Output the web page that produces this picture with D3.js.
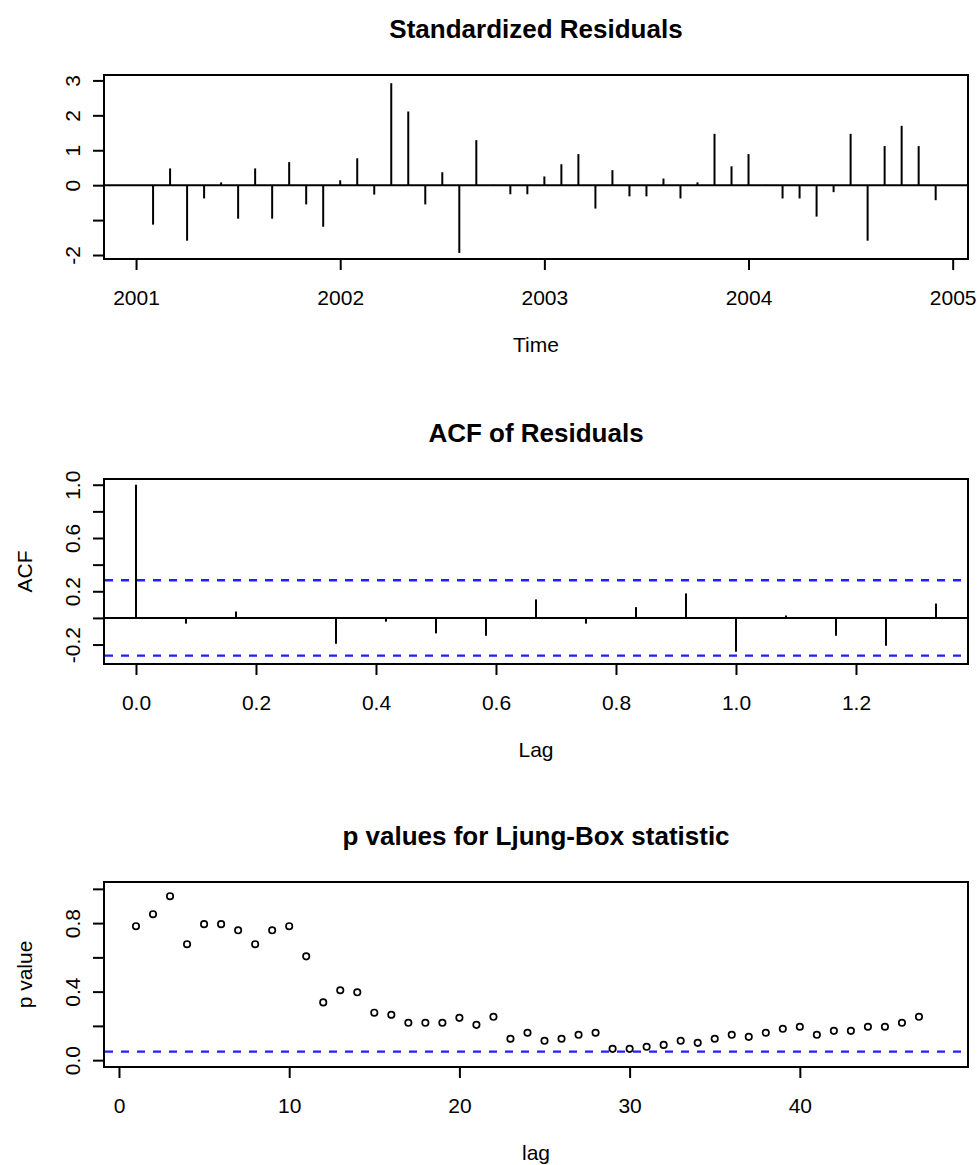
<!DOCTYPE html>
<html>
<head>
<meta charset="utf-8">
<script src="https://cdn.jsdelivr.net/npm/d3@7"></script>
<style>
  body { margin: 0; background: #fff; }
  text { font-family: "Liberation Sans", Arial, sans-serif; fill: #000; }
  .title { font-size: 26px; font-weight: bold; }
  .tick text, .lab { font-size: 21px; }
  .tick line { stroke: #000; stroke-width: 2; }
  .frame { fill: none; stroke: #000; stroke-width: 2; }
  .spike { stroke: #000; stroke-width: 2; }
  .zero { stroke: #000; stroke-width: 2; }
  .bound { stroke: #1f1fff; stroke-width: 2.4; stroke-dasharray: 8,8; }
  .dot { fill: none; stroke: #000; stroke-width: 1.7; }
</style>
</head>
<body>
<script>
// monthly series start
var startYear = 2001,
    freq = 12;

// standardized residuals, Jan 2001 .. Dec 2004
var residuals = [
   0.00, -1.13,  0.48, -1.59, -0.38,  0.08, -0.96,  0.48, -0.96,  0.66, -0.55, -1.19,
   0.14,  0.77, -0.27,  2.92,  2.11, -0.55,  0.37, -1.94,  1.29,  0.01, -0.26, -0.26,
   0.25,  0.60,  0.89, -0.67,  0.43, -0.32, -0.32,  0.19, -0.38,  0.08,  1.47,  0.54,
   0.89,  0.01, -0.38, -0.38, -0.90, -0.20,  1.47, -1.59,  1.12,  1.70,  1.12, -0.43
];
var resXTicks = [2001, 2002, 2003, 2004, 2005];
var resYTicks = [-2, -1, 0, 1, 2, 3];
var resYLabels = ["-2", "", "0", "1", "2", "3"];

// acf of residuals, lags 0..16 months
var acfValues = [1.0, -0.043, 0.048, 0.004, -0.194, -0.028, -0.116, -0.134, 0.139,
                 -0.043, 0.081, 0.184, -0.254, 0.018, -0.134, -0.209, 0.108];
var acfBound = 0.283;
var acfXTicks = [0, 0.2, 0.4, 0.6, 0.8, 1.0, 1.2];
var acfXLabels = ["0.0", "0.2", "0.4", "0.6", "0.8", "1.0", "1.2"];
var acfYTicks = [-0.2, 0, 0.2, 0.4, 0.6, 0.8, 1.0];
var acfYLabels = ["-0.2", "", "0.2", "", "0.6", "", "1.0"];

// ljung-box p values, lags 1..47
var pValues = [
  0.782, 0.852, 0.957, 0.677, 0.794, 0.794, 0.758, 0.677, 0.758, 0.782,
  0.606, 0.337, 0.408, 0.396, 0.277, 0.265, 0.218, 0.218, 0.218, 0.247,
  0.206, 0.253, 0.125, 0.160, 0.113, 0.125, 0.148, 0.160, 0.066, 0.066,
  0.078, 0.089, 0.113, 0.101, 0.125, 0.148, 0.136, 0.160, 0.183, 0.195,
  0.148, 0.171, 0.171, 0.195, 0.195, 0.218, 0.253
];
var pBound = 0.05;
var pXTicks = [0, 10, 20, 30, 40];
var pYTicks = [0, 0.2, 0.4, 0.6, 0.8, 1.0];
var pYLabels = ["0.0", "", "0.4", "", "0.8", ""];

// plot region shared by the three panels
var left = 104, right = 968;

var svg = d3.select("body").append("svg")
    .attr("width", 977)
    .attr("height", 1165);

// draws box, title, axes and axis titles of one panel
function panel(top, bottom, title, x, y, xt, xl, yt, yl, xlab, ylab) {
  var g = svg.append("g");

  var ax = g.append("g")
      .attr("transform", "translate(0," + bottom + ")")
      .call(d3.axisBottom(x).tickValues(xt)
            .tickFormat(function(d, i) { return xl[i]; })
            .tickSize(11));
  ax.select(".domain").remove();
  ax.selectAll("text").attr("y", 46).attr("dy", null);

  var ay = g.append("g")
      .attr("transform", "translate(" + left + ",0)")
      .call(d3.axisLeft(y).tickValues(yt)
            .tickFormat(function(d, i) { return yl[i]; })
            .tickSize(11));
  ay.select(".domain").remove();
  ay.selectAll("text")
      .attr("x", 0).attr("y", -24).attr("dy", null)
      .attr("text-anchor", "middle")
      .attr("transform", "rotate(-90)");

  g.append("rect")
      .attr("class", "frame")
      .attr("x", left).attr("y", top)
      .attr("width", right - left).attr("height", bottom - top);

  g.append("text")
      .attr("class", "title")
      .attr("x", (left + right) / 2).attr("y", top - 37)
      .attr("text-anchor", "middle")
      .text(title);

  g.append("text")
      .attr("class", "lab")
      .attr("x", (left + right) / 2).attr("y", bottom + 93)
      .attr("text-anchor", "middle")
      .text(xlab);

  if (ylab) {
    g.append("text")
        .attr("class", "lab")
        .attr("transform", "translate(" + (left - 72) + "," + (top + bottom) / 2 + ") rotate(-90)")
        .attr("text-anchor", "middle")
        .text(ylab);
  }
  return g;
}

// ---- standardized residuals ----
var x1 = d3.scaleLinear().domain([2000.843, 2005.075]).range([left, right]);
var y1 = d3.scaleLinear().domain([-2.114, 3.155]).range([259, 75]);
var g1 = panel(75, 259, "Standardized Residuals", x1, y1,
               resXTicks, resXTicks.map(String), resYTicks, resYLabels, "Time", null);

g1.append("line")
    .attr("class", "zero")
    .attr("x1", left).attr("x2", right)
    .attr("y1", y1(0)).attr("y2", y1(0));

g1.selectAll(".res")
    .data(residuals)
  .enter().append("line")
    .attr("class", "spike")
    .attr("x1", function(d, i) { return x1(startYear + i / freq); })
    .attr("x2", function(d, i) { return x1(startYear + i / freq); })
    .attr("y1", y1(0))
    .attr("y2", function(d) { return y1(d); });

// ---- acf of residuals ----
var x2 = d3.scaleLinear().domain([-0.0533, 1.3867]).range([left, right]);
var y2 = d3.scaleLinear().domain([-0.346, 1.043]).range([664, 479]);
var g2 = panel(479, 664, "ACF of Residuals", x2, y2,
               acfXTicks, acfXLabels, acfYTicks, acfYLabels, "Lag", "ACF");

g2.append("line")
    .attr("class", "zero")
    .attr("x1", left).attr("x2", right)
    .attr("y1", y2(0)).attr("y2", y2(0));

g2.selectAll(".acf")
    .data(acfValues)
  .enter().append("line")
    .attr("class", "spike")
    .attr("x1", function(d, i) { return x2(i / freq); })
    .attr("x2", function(d, i) { return x2(i / freq); })
    .attr("y1", y2(0))
    .attr("y2", function(d) { return y2(d); });

[acfBound, -acfBound].forEach(function(b) {
  g2.append("line")
      .attr("class", "bound")
      .attr("x1", left + 1).attr("x2", right - 1)
      .attr("y1", y2(b)).attr("y2", y2(b));
});

// ---- ljung-box p values ----
var x3 = d3.scaleLinear().domain([-0.88, 49.88]).range([left, right]);
var y3 = d3.scaleLinear().domain([-0.04, 1.04]).range([1067, 882]);
var g3 = panel(882, 1067, "p values for Ljung-Box statistic", x3, y3,
               pXTicks, pXTicks.map(String), pYTicks, pYLabels, "lag", "p value");

g3.append("line")
    .attr("class", "bound")
    .attr("x1", left + 1).attr("x2", right - 1)
    .attr("y1", y3(pBound)).attr("y2", y3(pBound));

g3.selectAll(".dot")
    .data(pValues)
  .enter().append("circle")
    .attr("class", "dot")
    .attr("cx", function(d, i) { return x3(i + 1); })
    .attr("cy", function(d) { return y3(d); })
    .attr("r", 3.2);
</script>
</body>
</html>
